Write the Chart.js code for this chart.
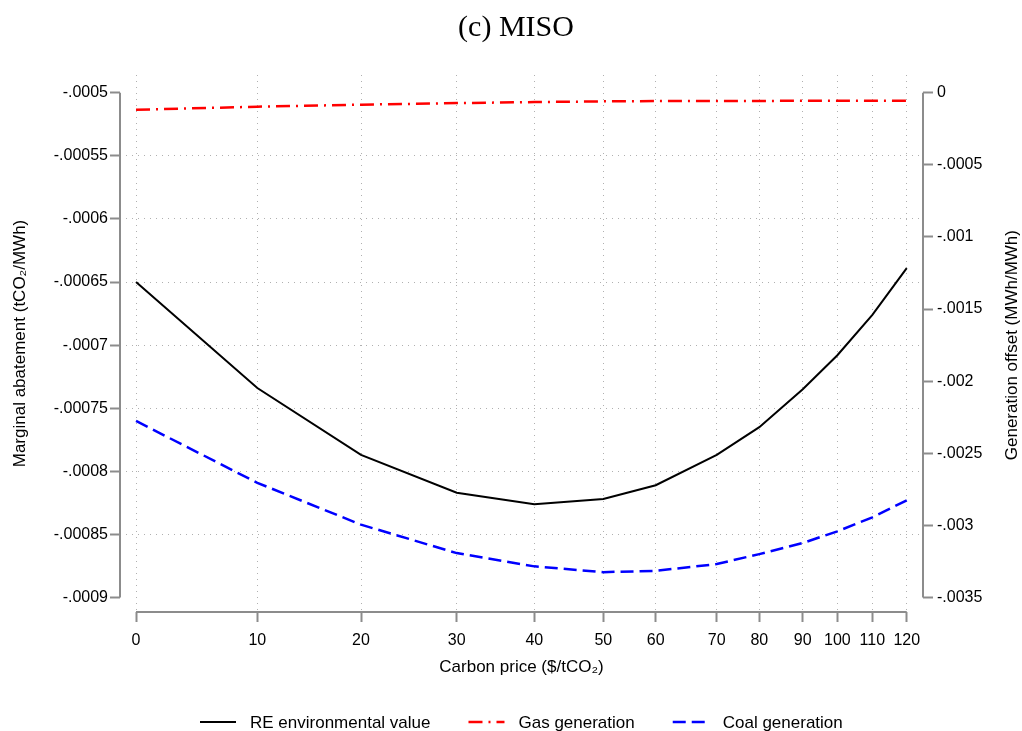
<!DOCTYPE html>
<html>
<head>
<meta charset="utf-8">
<script src="https://cdn.jsdelivr.net/npm/chart.js@4/dist/chart.umd.min.js"></script>
<style>
  html, body { margin: 0; padding: 0; background: #fff; overflow: hidden; }
  #wrap { width: 1022px; height: 731px; }
</style>
</head>
<body>
<div id="wrap"><canvas id="c" width="1022" height="731"></canvas></div>
<script>
// ---------------- data ----------------
const prices = [0, 10, 20, 30, 40, 50, 60, 70, 80, 90, 100, 110, 120];
// underlying (non-linear) horizontal axis value at which each carbon price sits, 0..100
const priceAxisValue = [0, 15.74, 29.19, 41.61, 51.68, 60.63, 67.43, 75.35, 80.87, 86.51, 91.00, 95.54, 100];
const reValue = [-0.000650, -0.000734, -0.000787, -0.000817, -0.000826, -0.000822, -0.000811,
                 -0.000787, -0.000765, -0.000735, -0.000708, -0.000676, -0.000639];
const gasGen = [-0.000118, -0.000097, -0.000083, -0.000072, -0.000065, -0.000060, -0.000058,
                -0.000057, -0.000057, -0.000056, -0.000056, -0.000056, -0.000056];
const coalGen = [-0.002276, -0.002705, -0.002995, -0.003192, -0.003284, -0.003324, -0.003315,
                 -0.003268, -0.003199, -0.003122, -0.003041, -0.002944, -0.002826];
const leftTicks = [-0.0005, -0.00055, -0.0006, -0.00065, -0.0007, -0.00075, -0.0008, -0.00085, -0.0009];
const rightTicks = [0, -0.0005, -0.001, -0.0015, -0.002, -0.0025, -0.003, -0.0035];
const seriesNames = ['RE environmental value', 'Gas generation', 'Coal generation'];
const chartTitle = '(c) MISO';
const xTitle = 'Carbon price ($/tCO\u2082)';
const yLeftTitle = 'Marginal abatement (tCO\u2082/MWh)';
const yRightTitle = 'Generation offset (MWh/MWh)';

// ---------------- styling ----------------
const SANS = "'Liberation Sans', Arial, sans-serif";
const SERIF = "'Liberation Serif', 'Times New Roman', serif";
const AXIS_GREY = '#8c8c8c';
const GRID_GREY = '#b0b0b0';
const GRID_DASH = [1, 5];
const TICK_SIZE = 16;
const TITLE_SIZE = 17;

function stataNum(v) {
  if (Math.abs(v) < 1e-12) return '0';
  let s = v.toFixed(6).replace(/0+$/, '').replace(/\.$/, '');
  return s.replace(/^(-?)0\./, '$1.');
}
function padRange(ticks, padLow, padHigh) {
  const hi = Math.max(...ticks), lo = Math.min(...ticks), r = hi - lo;
  return { min: lo - r * padLow, max: hi + r * padHigh };
}
const xr = padRange(priceAxisValue, 0.0208, 0.0211);
const ylr = padRange(leftTicks, 0.0287, 0.0351);
const yrr = padRange(rightTicks, 0.0287, 0.0351);

const pts = arr => arr.map((v, i) => ({ x: priceAxisValue[i], y: v }));

// ---------------- plugin: Stata-like axis lines, right title, legend ----------------
const stataFrame = {
  id: 'stataFrame',
  afterDatasetsDraw(chart) {
    const { ctx, chartArea: a, scales: { x, yL, yR } } = chart;
    ctx.save();
    ctx.strokeStyle = AXIS_GREY;
    ctx.lineWidth = 2;
    ctx.setLineDash([]);
    ctx.beginPath();
    ctx.moveTo(a.left, yL.getPixelForValue(leftTicks[0]));
    ctx.lineTo(a.left, yL.getPixelForValue(leftTicks[leftTicks.length - 1]));
    ctx.moveTo(a.right, yR.getPixelForValue(rightTicks[0]));
    ctx.lineTo(a.right, yR.getPixelForValue(rightTicks[rightTicks.length - 1]));
    ctx.moveTo(x.getPixelForValue(priceAxisValue[0]), a.bottom);
    ctx.lineTo(x.getPixelForValue(priceAxisValue[priceAxisValue.length - 1]), a.bottom);
    ctx.stroke();
    ctx.restore();
  },
  afterDraw(chart) {
    const { ctx, scales: { x, yR } } = chart;
    // right axis title, reading bottom-to-top
    ctx.save();
    ctx.font = TITLE_SIZE + 'px ' + SANS;
    ctx.fillStyle = '#000';
    ctx.textAlign = 'center';
    ctx.textBaseline = 'middle';
    const cy = (yR.getPixelForValue(rightTicks[0]) + yR.getPixelForValue(rightTicks[rightTicks.length - 1])) / 2;
    ctx.translate(1012, cy);
    ctx.rotate(-Math.PI / 2);
    ctx.fillText(yRightTitle, 0, 0);
    ctx.restore();

    // legend
    ctx.save();
    ctx.font = TITLE_SIZE + 'px ' + SANS;
    const sample = 36, gapText = 14, gapItem = 38;
    const ds = chart.data.datasets;
    const widths = ds.map(d => sample + gapText + ctx.measureText(d.label).width);
    const total = widths.reduce((s, w) => s + w, 0) + gapItem * (ds.length - 1);
    const center = (x.getPixelForValue(priceAxisValue[0]) + x.getPixelForValue(priceAxisValue[priceAxisValue.length - 1])) / 2;
    let cx = center - total / 2;
    const ly = 722;
    ds.forEach((d, i) => {
      ctx.save();
      ctx.strokeStyle = d.borderColor;
      ctx.lineWidth = d.borderWidth;
      ctx.setLineDash(d.borderDash || []);
      ctx.beginPath();
      ctx.moveTo(cx, ly);
      ctx.lineTo(cx + sample, ly);
      ctx.stroke();
      ctx.restore();
      ctx.fillStyle = '#000';
      ctx.textAlign = 'left';
      ctx.textBaseline = 'middle';
      ctx.fillText(d.label, cx + sample + gapText, ly + 1);
      cx += widths[i] + gapItem;
    });
    ctx.restore();
  }
};

new Chart(document.getElementById('c'), {
  type: 'line',
  data: {
    datasets: [
      { label: seriesNames[0], data: pts(reValue), yAxisID: 'yL',
        borderColor: '#000000', borderWidth: 2, borderDash: [], pointRadius: 0, tension: 0, fill: false },
      { label: seriesNames[1], data: pts(gasGen), yAxisID: 'yR',
        borderColor: '#ff0000', borderWidth: 2.5, borderDash: [14, 6, 2, 6], pointRadius: 0, tension: 0, fill: false },
      { label: seriesNames[2], data: pts(coalGen), yAxisID: 'yR',
        borderColor: '#0000ff', borderWidth: 2.5, borderDash: [13, 6], pointRadius: 0, tension: 0, fill: false }
    ]
  },
  options: {
    responsive: false,
    devicePixelRatio: 1,
    animation: false,
    layout: { padding: { left: 10, right: 0, top: 0, bottom: 39 } },
    plugins: {
      legend: { display: false },
      tooltip: { enabled: false },
      title: {
        display: true, text: chartTitle, color: '#000',
        font: { family: SERIF, size: 30, weight: 'normal' },
        padding: { top: 10, bottom: 29 }
      }
    },
    scales: {
      x: {
        type: 'linear', position: 'bottom', min: xr.min, max: xr.max,
        afterBuildTicks: s => { s.ticks = priceAxisValue.map(v => ({ value: v })); },
        afterFit: s => { s.height = 80; },
        ticks: { autoSkip: false, maxRotation: 0, minRotation: 0, padding: 9, color: '#000',
                 font: { family: SANS, size: TICK_SIZE }, callback: (v, i) => String(prices[i]) },
        grid: { color: GRID_GREY, lineWidth: 1, drawTicks: true, tickLength: 10,
                tickColor: AXIS_GREY, tickWidth: 2, tickBorderDash: [] },
        border: { display: false, dash: GRID_DASH },
        title: { display: true, text: xTitle, color: '#000', font: { family: SANS, size: TITLE_SIZE },
                 padding: { top: 4, bottom: 14 } }
      },
      yL: {
        type: 'linear', position: 'left', min: ylr.min, max: ylr.max,
        afterBuildTicks: s => { s.ticks = leftTicks.map(v => ({ value: v })); },
        afterFit: s => { s.width = 110; },
        ticks: { padding: 2, color: '#000', font: { family: SANS, size: TICK_SIZE }, callback: v => stataNum(v) },
        grid: {
          color: c => (c.index === 0 || c.index === leftTicks.length - 1) ? 'rgba(0,0,0,0)' : GRID_GREY,
          lineWidth: 1, drawTicks: true, tickLength: 10, tickColor: AXIS_GREY, tickWidth: 2, tickBorderDash: []
        },
        border: { display: false, dash: GRID_DASH },
        title: { display: true, text: yLeftTitle, color: '#000', font: { family: SANS, size: TITLE_SIZE },
                 padding: { top: 0, bottom: 0 } }
      },
      yR: {
        type: 'linear', position: 'right', min: yrr.min, max: yrr.max,
        afterBuildTicks: s => { s.ticks = rightTicks.map(v => ({ value: v })); },
        afterFit: s => { s.width = 99; },
        ticks: { padding: 4, color: '#000', font: { family: SANS, size: TICK_SIZE }, callback: v => stataNum(v) },
        grid: { drawOnChartArea: false, drawTicks: true, tickLength: 10, tickColor: AXIS_GREY,
                tickWidth: 2, tickBorderDash: [] },
        border: { display: false }
      }
    }
  },
  plugins: [stataFrame]
});
</script>
</body>
</html>
